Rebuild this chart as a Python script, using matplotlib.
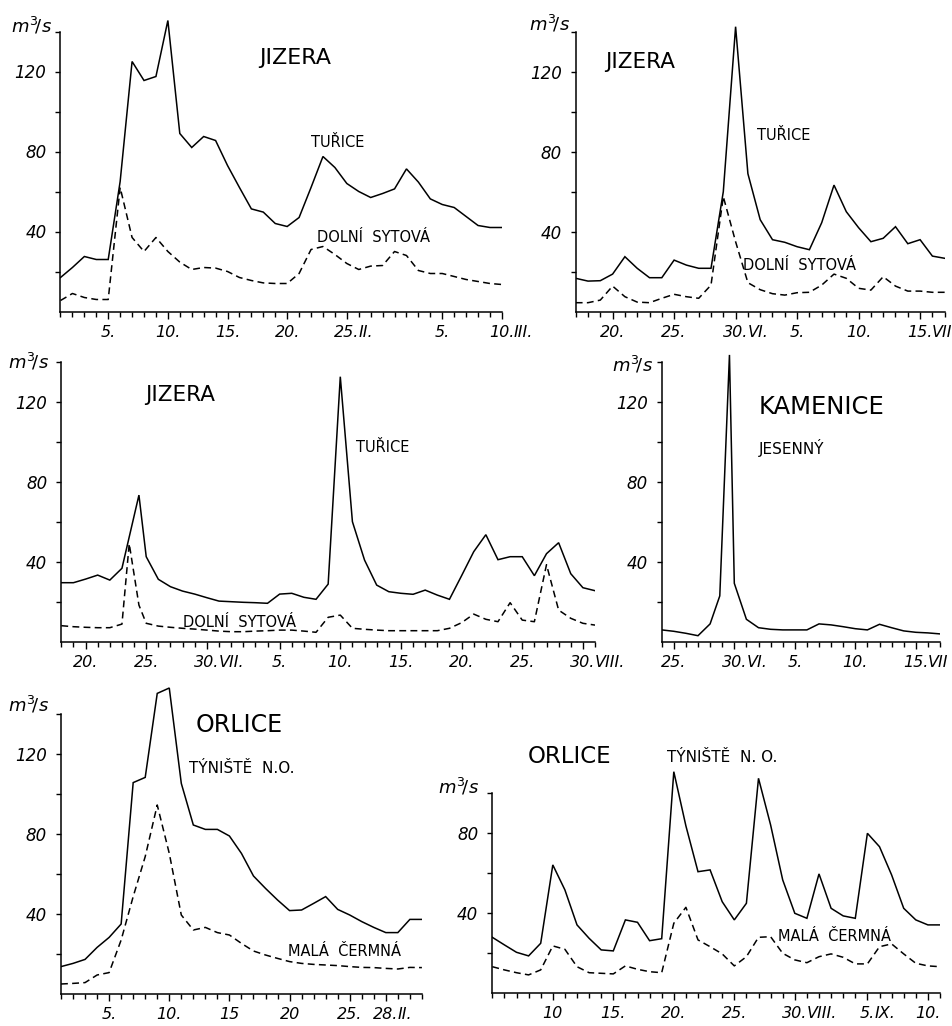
import matplotlib.pyplot as plt

W, H = 953, 1026
YPU = 2.0   # pixels per m3/s

plt.rcParams['font.family'] = ['DejaVu Sans']

# --- Jizera, February / March (day 1 = 1.II, 29 = 1.III)
days1 = list(range(1, 39))
turice1 = [17, 22, 27.5, 26, 26, 65, 125, 115.5, 117.5, 145.5, 89, 82, 87.5, 85.5, 73, 62,
           51.3, 49.7, 44, 42.5, 47, 62, 77.5, 72, 64, 60, 57, 59, 61.3, 71.3, 64.7, 56.3,
           53.5, 52, 47.5, 43, 42, 42]
sytova1 = [5.5, 9, 7, 6, 6, 62, 37, 30, 37, 30, 24.7, 21, 22, 21.7, 20, 17, 15.5, 14.3, 14,
           14, 19, 31, 32.5, 28.5, 24, 21, 22.7, 23, 30, 28, 20.5, 19, 19, 17.5, 16, 15, 14, 13.5]
ticks1 = [(5, '5.', ''), (10, '10.', ''), (15, '15.', ''), (20, '20.', ''), (25, '25.', 'II.'),
          (33, '5.', ''), (38, '10.', 'III.')]

# --- Jizera, June / July (day 30 = 30.VI, 31 = 1.VII)
days2 = list(range(17, 48))
turice2 = [16.7, 15.3, 15.5, 18.8, 27.5, 21.7, 17, 17, 25.8, 23.3, 21.7, 21.7, 60, 142.5, 69,
           46, 36, 34.7, 32.5, 31, 44.5, 63.3, 50, 42, 35, 36.7, 42.5, 34, 36, 27.8, 26.7]
sytova2 = [4.5, 4.5, 5.8, 12.8, 7.5, 4.8, 4.5, 6.7, 8.7, 7.5, 6.7, 13.3, 57.5, 35, 14.5, 11,
           9, 8.3, 9.5, 9.7, 13.3, 18.8, 16.7, 11.7, 10.8, 17.5, 12.8, 10.3, 10.3, 9.7, 9.7]
ticks2 = [(20, '20.', ''), (25, '25.', ''), (30, '30.', 'VI.'), (35, '5.', ''), (40, '10.', ''),
          (45, '15.', 'VII')]

# --- Jizera, July / August (day 31 = 31.VII, 32 = 1.VIII)
days3_t = [18, 19, 20, 21, 22, 23, 24.4] + list(range(25, 63))
turice3 = [29.5, 29.5, 31.3, 33.3, 30.8, 36.7, 73.3, 42.5, 31.2, 27.5, 25.3, 23.8, 22, 20.3,
           20, 19.7, 19.5, 19.2, 23.8, 24.2, 22.2, 21.2, 28.8, 132.5, 60, 40.8, 28.3, 25,
           24.2, 23.7, 25.8, 23.3, 21.2, 33, 45, 53.5, 41, 42.5, 42.5, 33, 44, 49.5, 34, 27, 25.5]
days3_s = [18, 19, 20, 21, 22, 23, 23.6, 24.4] + list(range(25, 63))
sytova3 = [8, 7.5, 7.2, 7, 7, 8.8, 49, 18.3, 9.2, 7.8, 7.2, 6.7, 6.3, 5.8, 5.3, 5, 5, 5.3,
           5.5, 5.8, 5.8, 5.3, 4.7, 12.2, 13.3, 6.7, 6.2, 5.8, 5.5, 5.5, 5.5, 5.5, 5.5, 6.7,
           9.5, 13.8, 11.2, 10, 19.5, 10.8, 10, 38.5, 15.8, 11.7, 9.2, 8.3]
ticks3 = [(20, '20.', ''), (25, '25.', ''), (30, '30.', 'VII.'), (36, '5.', ''), (41, '10.', ''),
          (46, '15.', ''), (51, '20.', ''), (56, '25.', ''), (61, '30.', 'VIII.')]

# --- Kamenice, June / July
days4 = [24, 25, 26, 27, 28, 28.8, 29.6] + list(range(30, 48))
jesenny4 = [6.2, 5.5, 4.5, 3.3, 9.2, 23.2, 143.7, 29.5, 11.5, 7.3, 6.5, 6.2, 6.2, 6.2, 9.2,
            8.7, 7.8, 6.8, 6.2, 9, 7.3, 5.7, 5, 4.7, 4.2]
ticks4 = [(25, '25.', ''), (30, '30.', 'VI.'), (35, '5.', ''), (40, '10.', ''), (45, '15.', 'VII')]

# --- Orlice, February / March
days5 = list(range(1, 32))
tyniste5 = [13.7, 15.3, 17.3, 23.3, 28.3, 35, 105.7, 108.3, 150.3, 153, 105.3, 84.5, 82.3,
            82.3, 79, 70.3, 59, 52.8, 47, 41.7, 42, 45.3, 48.7, 42.3, 39.5, 36.2, 33.3, 30.7,
            30.7, 37.3, 37.3]
cermna5 = [5, 5.3, 5.7, 9.5, 10.7, 27, 48.7, 68.7, 94.5, 70.3, 39.5, 32, 33.3, 30.7, 29.5,
           25.3, 21.5, 19.5, 17.8, 16.2, 15.3, 14.8, 14.5, 14.2, 13.7, 13.3, 13.2, 12.8, 12.5,
           13.3, 13.2]
ticks5 = [(5, '5.', ''), (10, '10.', ''), (15, '15', ''), (20, '20', ''), (25, '25.', ''),
          (28, '28.', 'II.')]

# --- Orlice, August / September (day 32 = 1.IX)
days6 = list(range(5, 43))
tyniste6 = [28, 24.2, 20.5, 18.7, 25, 64.2, 51.7, 34.2, 27.5, 21.7, 21.2, 36.7, 35.5, 26.3,
            27.3, 110.8, 83.7, 60.8, 61.7, 45.8, 36.7, 45, 107.5, 84.2, 56.7, 40, 37.5, 59.7,
            42.5, 38.7, 37.5, 80, 73.3, 59.2, 42.5, 36.7, 34.2, 34.2]
cermna6 = [13.3, 11.7, 10.3, 9.2, 11.7, 23.7, 22, 13.3, 10.3, 10, 9.7, 13.7, 12, 10.8, 10.3,
           35, 43, 26.7, 23.3, 19.7, 13.7, 18.3, 28, 28.3, 20, 16.7, 15.3, 18.3, 19.7, 18,
           14.7, 14.7, 23.3, 24.7, 19.7, 15, 13.7, 13.3]
ticks6 = [(10, '10', ''), (15, '15.', ''), (20, '20.', ''), (25, '25.', ''), (30, '30.', 'VIII.'),
          (36, '5.', 'IX.'), (41, '10.', '')]

fig = plt.figure(figsize=(W / 100, H / 100), dpi=100)
fig.patch.set_facecolor('white')

LW = 1.1
TFS = 11.5       # tick label size
TLEN = 5.0
TPAD = 4.5


def panel(left, base, d0, d1, ppd, ticks, ytop=140, ylabels=(40, 80, 120)):
    ax = fig.add_axes([left / W, (H - base) / H, (d1 - d0) * ppd / W, 160 * YPU / H])
    ax.patch.set_visible(False)
    ax.set_xlim(d0, d1)
    ax.set_ylim(0, 160)
    ax.spines['top'].set_visible(False)
    ax.spines['right'].set_visible(False)
    ax.spines['left'].set_bounds(0, ytop)
    ax.spines['left'].set_linewidth(LW)
    ax.spines['bottom'].set_linewidth(LW)

    yt = list(range(20, ytop + 1, 20))
    ax.set_yticks(yt)
    ax.set_yticklabels([str(v) if v in ylabels else '' for v in yt],
                       fontstyle='italic', fontsize=12)
    ax.tick_params(axis='y', direction='out', length=3.6, width=1.0, pad=6.5)

    ax.set_xticks(range(d0, d1 + 1), minor=True)
    ax.set_xticks([t[0] for t in ticks])
    ax.set_xticklabels([t[1] for t in ticks], fontstyle='italic', fontsize=TFS)
    ax.tick_params(axis='x', which='major', direction='out', length=TLEN, width=1.0, pad=TPAD)
    ax.tick_params(axis='x', which='minor', direction='out', length=3.8, width=1.0)

    # month numerals right after the day number
    for d, num, month in ticks:
        if month:
            half = TFS * (0.636 * (len(num) - 1) + 0.318) / 2
            ax.annotate(month, xy=(d, 0), xycoords=ax.get_xaxis_transform(),
                        xytext=(half - 0.4, -(TLEN + TPAD)), textcoords='offset points',
                        ha='left', va='top', fontstyle='italic', fontsize=TFS)
    return ax


def unit(ax, x, y):
    ax.text(x, y, r'$m^3\!/s$', fontsize=13, ha='center', va='center')


def label(ax, x, y, s, fs=10.5):
    ax.text(x, y, s, fontsize=fs, ha='center', va='center')


solid = dict(color='black', lw=LW, solid_joinstyle='miter')
dash = dict(color='black', lw=LW, dashes=(4.5, 2.8))

# panel 1
ax = panel(60.5, 311.5, 1, 38, 11.93, ticks1)
ax.plot(days1, turice1, **solid)
ax.plot(days1, sytova1, **dash)
label(ax, 20.7, 127, 'JIZERA', 16)
label(ax, 24.2, 84.7, 'TUŘICE')
label(ax, 27.2, 37.2, 'DOLNÍ  SYTOVÁ')
unit(ax, -1.4, 143)

# panel 2
ax = panel(575.7, 311.7, 17, 47, 12.3, ticks2)
ax.plot(days2, turice2, **solid)
ax.plot(days2, sytova2, **dash)
label(ax, 22.2, 124.8, 'JIZERA', 15.5)
label(ax, 33.9, 88.3, 'TUŘICE')
label(ax, 35.2, 23.3, 'DOLNÍ  SYTOVÁ')
unit(ax, 14.9, 144)

# panel 3
ax = panel(61.3, 641.7, 18, 62, 12.13, ticks3)
ax.plot(days3_t, turice3, **solid)
ax.plot(days3_s, sytova3, **dash)
label(ax, 27.8, 123.3, 'JIZERA', 15.5)
label(ax, 44.5, 97.2, 'TUŘICE')
label(ax, 32.7, 9.5, 'DOLNÍ  SYTOVÁ')
unit(ax, 15.3, 140)

# panel 4
ax = panel(661.7, 642.3, 24, 47, 12.1, ticks4)
ax.plot(days4, jesenny4, **solid)
label(ax, 37.2, 117.8, 'KAMENICE', 17.5)
label(ax, 34.7, 97, 'JESENNÝ', 11)
unit(ax, 21.6, 138.6)

# panel 5
ax = panel(61, 994, 1, 31, 12.03, ticks5)
ax.plot(days5, tyniste5, **solid)
ax.plot(days5, cermna5, **dash)
label(ax, 15.8, 134.5, 'ORLICE', 17)
label(ax, 16, 112.8, 'TÝNIŠTĚ  N.O.', 11)
label(ax, 24.6, 21.2, 'MALÁ  ČERMNÁ')
unit(ax, -1.7, 144.5)

# panel 6
ax = panel(492.3, 993.3, 5, 42, 12.1, ticks6, ytop=100, ylabels=(40, 80))
ax.plot(days6, tyniste6, **solid)
ax.plot(days6, cermna6, **dash)
label(ax, 11.4, 118.3, 'ORLICE', 16.5)
label(ax, 24, 118, 'TÝNIŠTĚ  N. O.', 11)
label(ax, 33.3, 28.3, 'MALÁ  ČERMNÁ')
unit(ax, 2.2, 103)

fig.savefig('out.png', dpi=100, facecolor='white')
